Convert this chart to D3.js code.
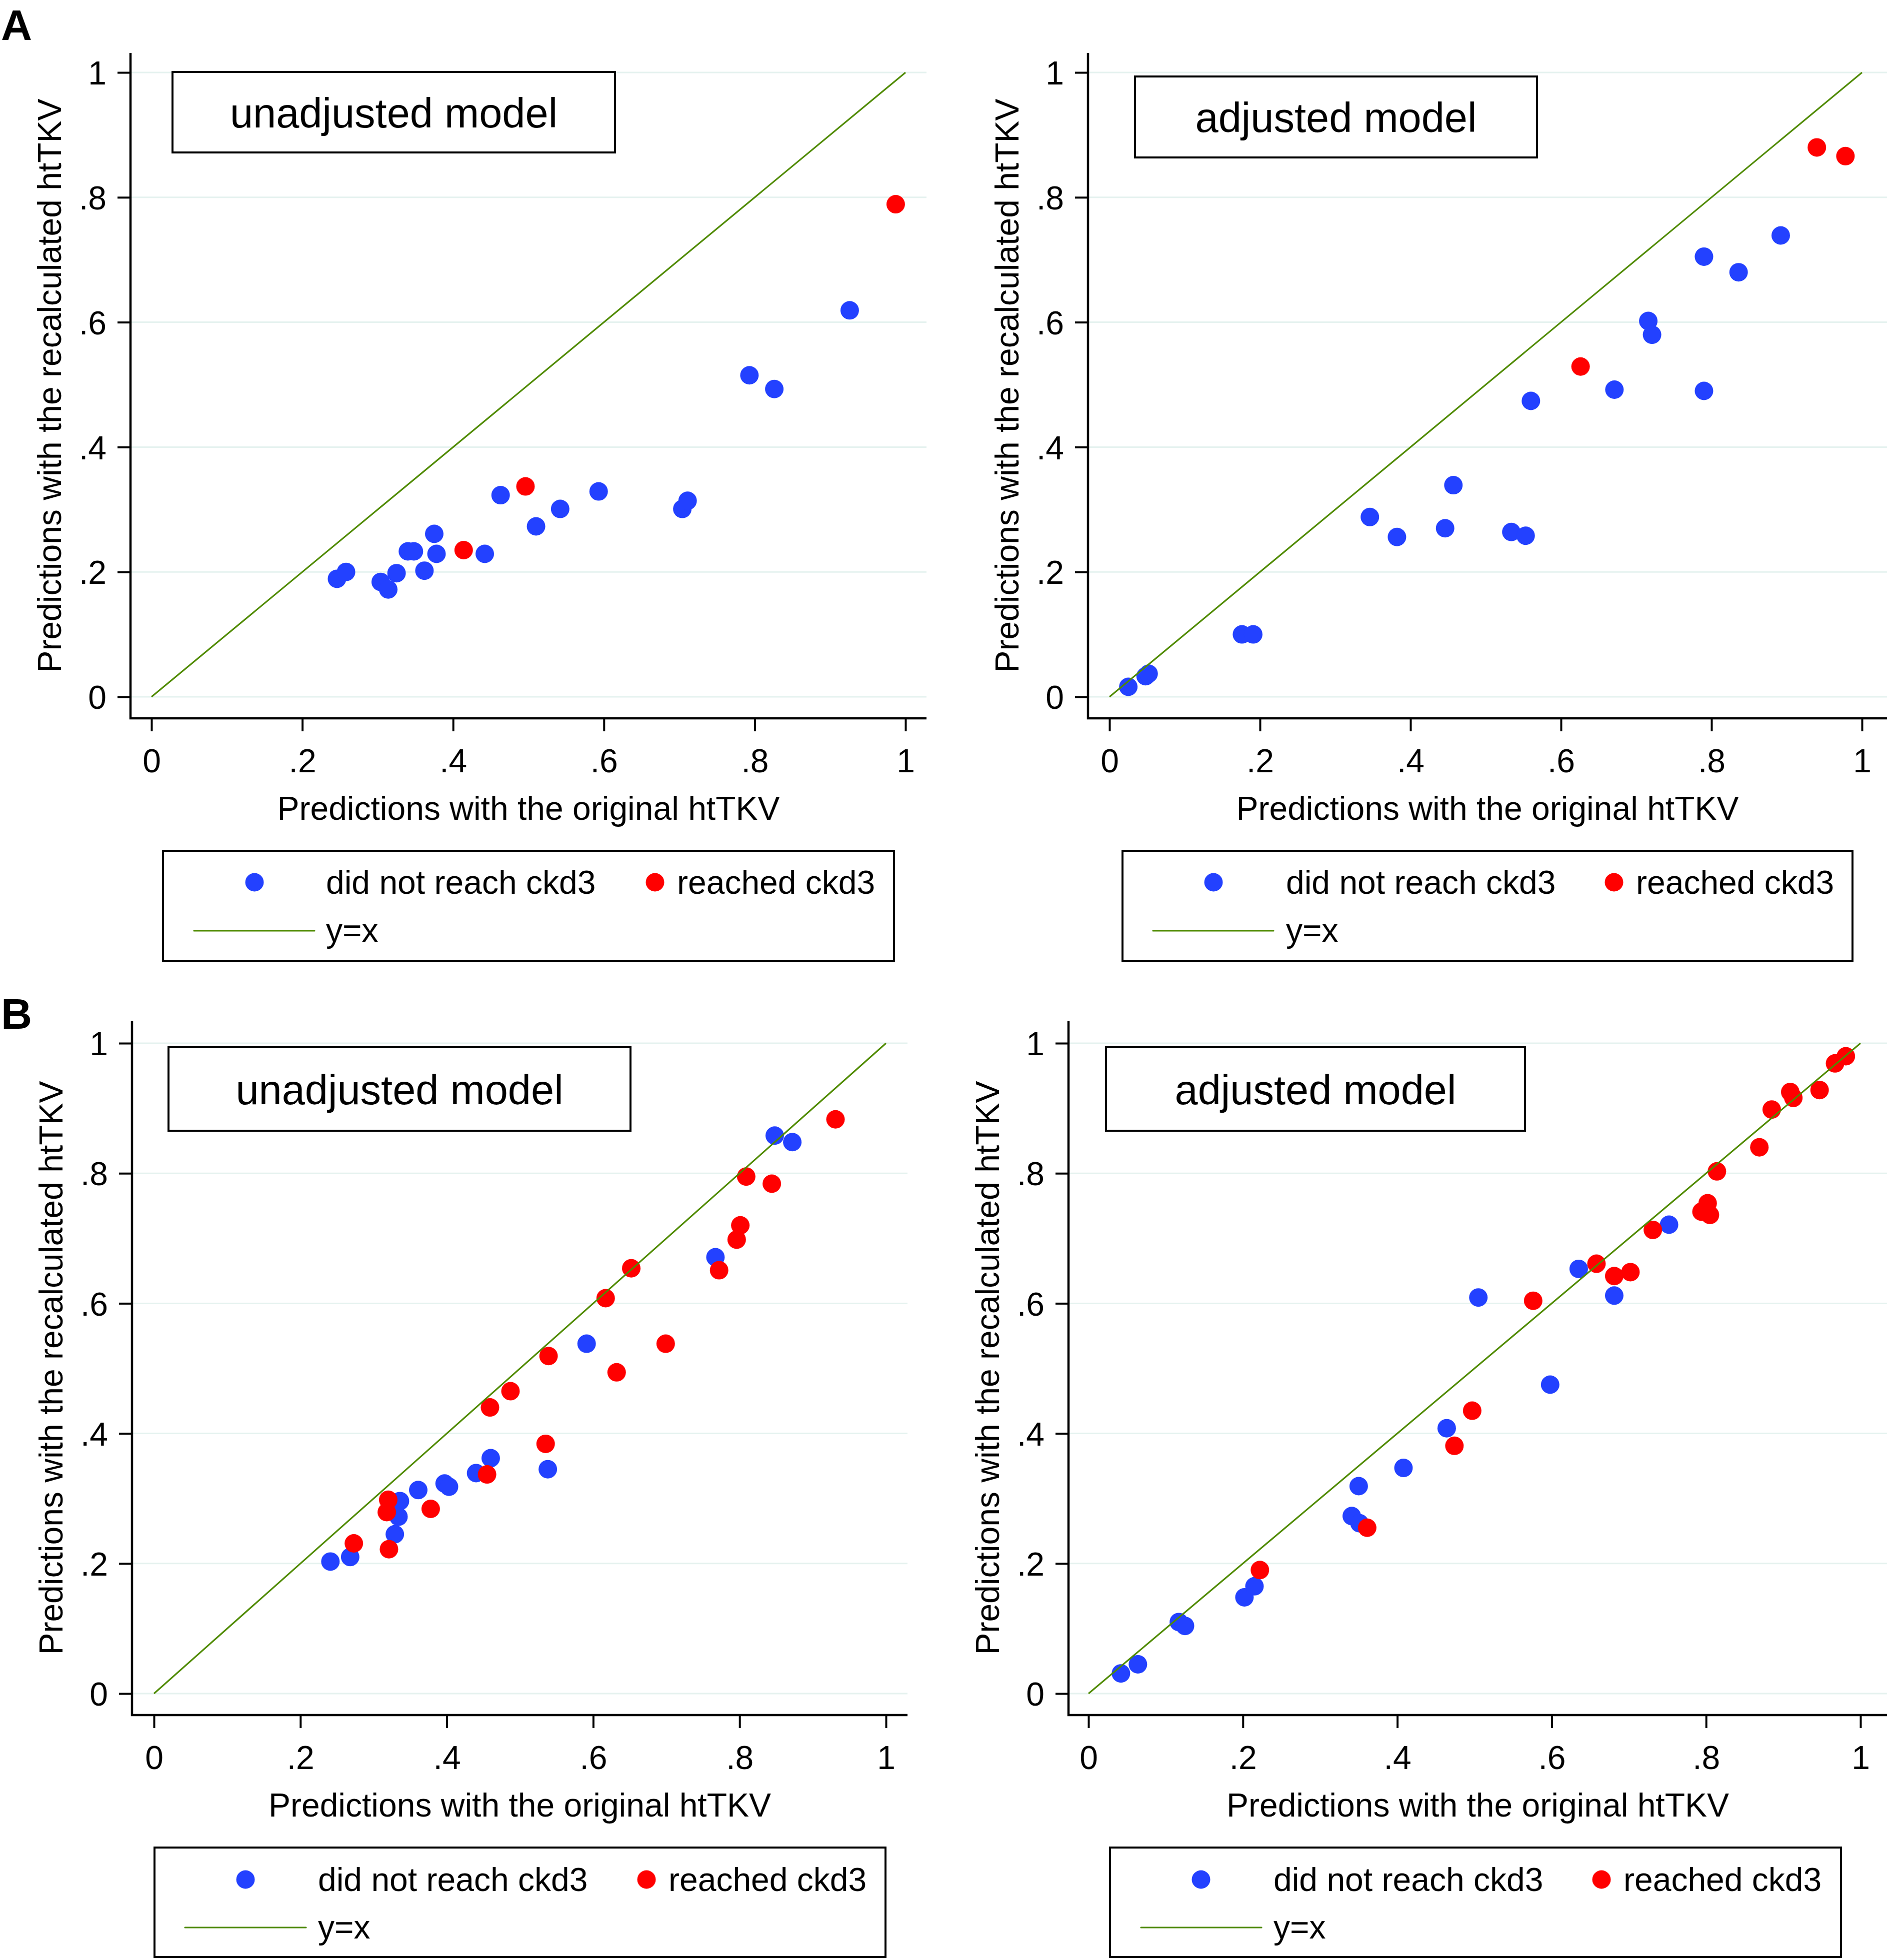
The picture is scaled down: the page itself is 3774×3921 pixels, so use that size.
<!DOCTYPE html>
<html>
<head>
<meta charset="utf-8">
<script src="https://cdn.jsdelivr.net/npm/d3@7"></script>
<style>
  html, body { margin: 0; padding: 0; background: #ffffff; }
  svg { display: block; }
  text { font-family: "Liberation Sans", Arial, Helvetica, sans-serif; fill: #000; }
</style>
</head>
<body>
<script>
// ---------------- DATA ----------------
const tickValues = [0, 0.2, 0.4, 0.6, 0.8, 1];
const tickLabels = ["0", ".2", ".4", ".6", ".8", "1"];
const xTitle = "Predictions with the original htTKV";
const yTitle = "Predictions with the recalculated htTKV";
const seriesNames = ["did not reach ckd3", "reached ckd3", "y=x"];
const panelTitles = ["unadjusted model", "adjusted model", "unadjusted model", "adjusted model"];
const panelLetters = ["A", "B"];

// Panel A – unadjusted model
const aUnadjNotReached = [[0.246,0.189],[0.258,0.200],[0.304,0.184],[0.314,0.172],[0.325,0.198],[0.340,0.233],[0.348,0.233],[0.362,0.202],[0.375,0.261],[0.378,0.229],[0.442,0.229],[0.463,0.323],[0.510,0.273],[0.542,0.301],[0.593,0.329],[0.704,0.301],[0.711,0.314],[0.793,0.515],[0.826,0.493],[0.926,0.619]];
const aUnadjReached = [[0.414,0.235],[0.496,0.337],[0.987,0.789]];

// Panel A – adjusted model
const aAdjNotReached = [[0.025,0.016],[0.048,0.033],[0.052,0.037],[0.176,0.100],[0.191,0.100],[0.346,0.288],[0.382,0.256],[0.446,0.270],[0.457,0.339],[0.534,0.264],[0.553,0.258],[0.560,0.474],[0.671,0.492],[0.716,0.602],[0.721,0.580],[0.790,0.490],[0.790,0.705],[0.836,0.680],[0.892,0.739]];
const aAdjReached = [[0.626,0.529],[0.940,0.880],[0.978,0.866]];

// Panel B – unadjusted model
const bUnadjNotReached = [[0.241,0.203],[0.268,0.210],[0.329,0.245],[0.334,0.272],[0.336,0.296],[0.361,0.313],[0.397,0.323],[0.403,0.318],[0.440,0.339],[0.460,0.362],[0.538,0.345],[0.591,0.538],[0.767,0.671],[0.848,0.858],[0.872,0.848]];
const bUnadjReached = [[0.273,0.231],[0.320,0.298],[0.318,0.279],[0.321,0.222],[0.378,0.284],[0.455,0.337],[0.459,0.440],[0.487,0.465],[0.535,0.384],[0.539,0.519],[0.617,0.608],[0.632,0.494],[0.652,0.654],[0.699,0.538],[0.772,0.651],[0.796,0.698],[0.801,0.720],[0.809,0.795],[0.844,0.784],[0.931,0.883]];

// Panel B – adjusted model
const bAdjNotReached = [[0.042,0.031],[0.064,0.045],[0.117,0.110],[0.125,0.104],[0.202,0.148],[0.215,0.165],[0.341,0.273],[0.351,0.262],[0.350,0.319],[0.408,0.347],[0.464,0.408],[0.505,0.609],[0.598,0.475],[0.635,0.653],[0.681,0.612],[0.752,0.721]];
const bAdjReached = [[0.222,0.190],[0.361,0.255],[0.474,0.381],[0.497,0.435],[0.576,0.604],[0.658,0.661],[0.681,0.642],[0.702,0.648],[0.731,0.713],[0.794,0.741],[0.802,0.754],[0.805,0.736],[0.814,0.803],[0.869,0.840],[0.885,0.898],[0.909,0.925],[0.913,0.916],[0.947,0.928],[0.967,0.969],[0.981,0.980]];

const identityLine = [[0, 0], [1, 1]];

// ---------------- STYLE / LAYOUT ----------------
const W = 3774, H = 3921;
const COL_BLUE = "#2341ff", COL_RED = "#ff0000", COL_GREEN = "#4f8a00", COL_GRID = "#e5f2ef";
const FS = 66, FS_TITLE = 83, FS_LETTER = 86;
const R = 18.5;

const layouts = [
  {axisX:261, axisTop:106, axisBottom:1437, axisRight:1853, x0:303, x1:1811, y0:1394, y1:145,
   box:[345,144,1230,305], legend:[326,1702,1788,1923], blueDot:509, blueText:652, redDot:1310, redText:1354, row1:1765, row2:1862, lineX:[388,629]},
  {axisX:2176, axisTop:106, axisBottom:1437, axisRight:3774, x0:2219, x1:3724, y0:1394, y1:145,
   box:[2270,153,3074,315], legend:[2245,1702,3705,1923], blueDot:2427, blueText:2572, redDot:3228, redText:3272, row1:1765, row2:1862, lineX:[2306,2547]},
  {axisX:264, axisTop:2042, axisBottom:3431, axisRight:1815, x0:308, x1:1772, y0:3388, y1:2087,
   box:[337,2095,1261,2262], legend:[309,3696,1771,3915], blueDot:491, blueText:636, redDot:1293, redText:1337, row1:3760, row2:3856, lineX:[370,612]},
  {axisX:2137, axisTop:2042, axisBottom:3431, axisRight:3774, x0:2177, x1:3721, y0:3388, y1:2087,
   box:[2212,2095,3050,2262], legend:[2220,3696,3682,3915], blueDot:2402, blueText:2547, redDot:3203, redText:3247, row1:3760, row2:3856, lineX:[2282,2523]}
];
const panelData = [
  [aUnadjNotReached, aUnadjReached],
  [aAdjNotReached, aAdjReached],
  [bUnadjNotReached, bUnadjReached],
  [bAdjNotReached, bAdjReached]
];

const svg = d3.select("body").append("svg")
  .attr("width", W).attr("height", H).attr("viewBox", `0 0 ${W} ${H}`);
svg.append("rect").attr("width", W).attr("height", H).attr("fill", "#fff");

// Panel letters
svg.append("text").attr("x", 2).attr("y", 80).attr("font-size", FS_LETTER)
  .attr("font-weight", "bold").text(panelLetters[0]);
svg.append("text").attr("x", 2).attr("y", 2058).attr("font-size", FS_LETTER)
  .attr("font-weight", "bold").text(panelLetters[1]);

layouts.forEach((L, i) => {
  const g = svg.append("g");
  const [notReached, reached] = panelData[i];
  const x = d3.scaleLinear().domain([0, 1]).range([L.x0, L.x1]);
  const y = d3.scaleLinear().domain([0, 1]).range([L.y0, L.y1]);

  // gridlines
  g.append("g").selectAll("line").data(tickValues).join("line")
    .attr("x1", L.axisX).attr("x2", L.axisRight)
    .attr("y1", d => y(d)).attr("y2", d => y(d))
    .attr("stroke", COL_GRID).attr("stroke-width", 3);

  // y axis
  const yAxis = g.append("g").attr("transform", `translate(${L.axisX},0)`)
    .call(d3.axisLeft(y).tickValues(tickValues).tickFormat((d, k) => tickLabels[k])
      .tickSize(26).tickSizeOuter(0));
  yAxis.select(".domain").remove();
  yAxis.selectAll(".tick line").attr("stroke", "#000").attr("stroke-width", 4);
  yAxis.selectAll(".tick text").attr("x", -48).attr("dy", "0.36em")
    .attr("font-size", FS).attr("font-family", null).attr("fill", "#000");

  // x axis
  const xAxis = g.append("g").attr("transform", `translate(0,${L.axisBottom})`)
    .call(d3.axisBottom(x).tickValues(tickValues).tickFormat((d, k) => tickLabels[k])
      .tickSize(26).tickSizeOuter(0));
  xAxis.select(".domain").remove();
  xAxis.selectAll(".tick line").attr("stroke", "#000").attr("stroke-width", 4);
  xAxis.selectAll(".tick text").attr("y", 108).attr("dy", 0)
    .attr("font-size", FS).attr("font-family", null).attr("fill", "#000");

  // axis lines
  g.append("path")
    .attr("d", `M${L.axisX},${L.axisTop}V${L.axisBottom}H${L.axisRight}`)
    .attr("fill", "none").attr("stroke", "#000").attr("stroke-width", 4.5)
    .attr("stroke-linejoin", "miter");

  // axis titles
  g.append("text").attr("x", (L.axisX + L.axisRight) / 2).attr("y", L.axisBottom + 203)
    .attr("text-anchor", "middle").attr("font-size", FS).text(xTitle);
  const cy = (L.axisTop + L.axisBottom) / 2;
  g.append("text").attr("transform", `translate(${L.axisX - 139},${cy}) rotate(-90)`)
    .attr("text-anchor", "middle").attr("font-size", FS).text(yTitle);

  // title box
  const [bx0, by0, bx1, by1] = L.box;
  g.append("rect").attr("x", bx0).attr("y", by0).attr("width", bx1 - bx0).attr("height", by1 - by0)
    .attr("fill", "#fff").attr("stroke", "#000").attr("stroke-width", 4);
  g.append("text").attr("x", (bx0 + bx1) / 2).attr("y", (by0 + by1) / 2 + 30)
    .attr("text-anchor", "middle").attr("font-size", FS_TITLE).text(panelTitles[i]);

  // points
  g.append("g").selectAll("circle").data(notReached).join("circle")
    .attr("cx", d => x(d[0])).attr("cy", d => y(d[1])).attr("r", R).attr("fill", COL_BLUE);
  g.append("g").selectAll("circle").data(reached).join("circle")
    .attr("cx", d => x(d[0])).attr("cy", d => y(d[1])).attr("r", R).attr("fill", COL_RED);

  // y = x line
  g.append("path").datum(identityLine)
    .attr("d", d3.line().x(d => x(d[0])).y(d => y(d[1])))
    .attr("fill", "none").attr("stroke", COL_GREEN).attr("stroke-width", 3.2);

  // legend
  const [lx0, ly0, lx1, ly1] = L.legend;
  const lg = g.append("g");
  lg.append("rect").attr("x", lx0).attr("y", ly0).attr("width", lx1 - lx0).attr("height", ly1 - ly0)
    .attr("fill", "#fff").attr("stroke", "#000").attr("stroke-width", 4);
  lg.append("circle").attr("cx", L.blueDot).attr("cy", L.row1).attr("r", R).attr("fill", COL_BLUE);
  lg.append("text").attr("x", L.blueText).attr("y", L.row1 + 23).attr("font-size", FS).text(seriesNames[0]);
  lg.append("circle").attr("cx", L.redDot).attr("cy", L.row1).attr("r", R).attr("fill", COL_RED);
  lg.append("text").attr("x", L.redText).attr("y", L.row1 + 23).attr("font-size", FS).text(seriesNames[1]);
  lg.append("line").attr("x1", L.lineX[0]).attr("x2", L.lineX[1]).attr("y1", L.row2).attr("y2", L.row2)
    .attr("stroke", COL_GREEN).attr("stroke-width", 3.2).attr("stroke-linecap", "round");
  lg.append("text").attr("x", L.blueText).attr("y", L.row2 + 22).attr("font-size", FS).text(seriesNames[2]);
});
</script>
</body>
</html>
